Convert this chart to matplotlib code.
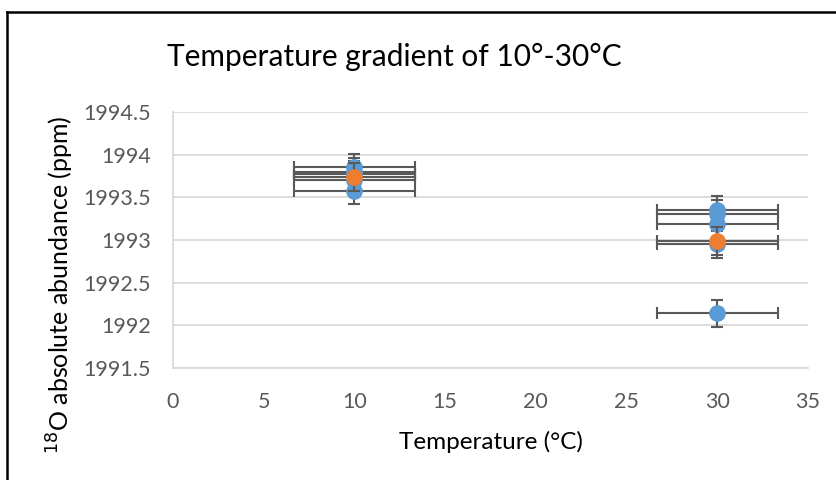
import matplotlib
matplotlib.use("Agg")
import matplotlib.pyplot as plt
from matplotlib.lines import Line2D

# Individual measurements (blue) and mean per temperature (orange)
temp_samples = [10, 10, 10, 10, 10, 30, 30, 30, 30, 30]
abund_samples = [1993.85, 1993.80, 1993.77, 1993.70, 1993.58,
                 1993.35, 1993.31, 1993.19, 1992.95, 1992.14]
temp_means = [10, 30]
abund_means = [1993.74, 1992.99]
x_err = 3.33
y_err = 0.16

x_ticks = [0, 5, 10, 15, 20, 25, 30, 35]
y_ticks = [1991.5, 1992, 1992.5, 1993, 1993.5, 1994, 1994.5]

plt.rcParams["font.family"] = ["Lato", "DejaVu Sans"]

W, H = 837, 480
fig = plt.figure(figsize=(W / 100, H / 100), dpi=100)
ax = fig.add_axes([173 / W, 1 - 368 / H, (808 - 173) / W, (368 - 112) / H])

err_color = "#595959"
ax.errorbar(temp_samples, abund_samples, xerr=x_err, yerr=y_err, fmt="none",
            ecolor=err_color, elinewidth=1.5, capsize=4.5, capthick=1.5, zorder=3)
ax.plot(temp_samples, abund_samples, "o", color="#5B9BD5", markersize=11, zorder=4)
ax.errorbar(temp_means, abund_means, xerr=x_err, yerr=y_err, fmt="none",
            ecolor=err_color, elinewidth=1.5, capsize=4.5, capthick=1.5, zorder=5)
ax.plot(temp_means, abund_means, "o", color="#ED7D31", markersize=11, zorder=6)

ax.set_xlim(0, 35)
ax.set_ylim(1991.5, 1994.5)
ax.set_xticks(x_ticks)
ax.set_yticks(y_ticks)
ax.set_yticklabels([f"{v:g}" for v in y_ticks])
ax.grid(axis="y", color="#D9D9D9", linewidth=1.3)
ax.set_axisbelow(True)
for side in ["top", "right"]:
    ax.spines[side].set_visible(False)
for side in ["left", "bottom"]:
    ax.spines[side].set_color("#D9D9D9")
    ax.spines[side].set_linewidth(1.3)
ax.tick_params(length=0, labelsize=15.5, colors="#595959")
ax.tick_params(axis="x", pad=17)
ax.tick_params(axis="y", pad=16)

ax.set_xlabel("Temperature (°C)", fontsize=17.5, color="#000000", labelpad=14)
fig.text(60 / W, 1 - 285 / H, r"$^{18}$O absolute abundance (ppm)", fontsize=18,
         rotation=90, ha="center", va="center")
fig.text(394 / W, 1 - 57 / H, "Temperature gradient of 10°-30°C", fontsize=21.5,
         ha="center", va="center")

# chart border (left and top edges visible)
fig.add_artist(Line2D([7 / W, 7 / W], [0, 1 - 12 / H], color="black", linewidth=1.8))
fig.add_artist(Line2D([7 / W, 1], [1 - 12 / H, 1 - 12 / H], color="black", linewidth=1.8))

fig.savefig("out.png", dpi=100)
